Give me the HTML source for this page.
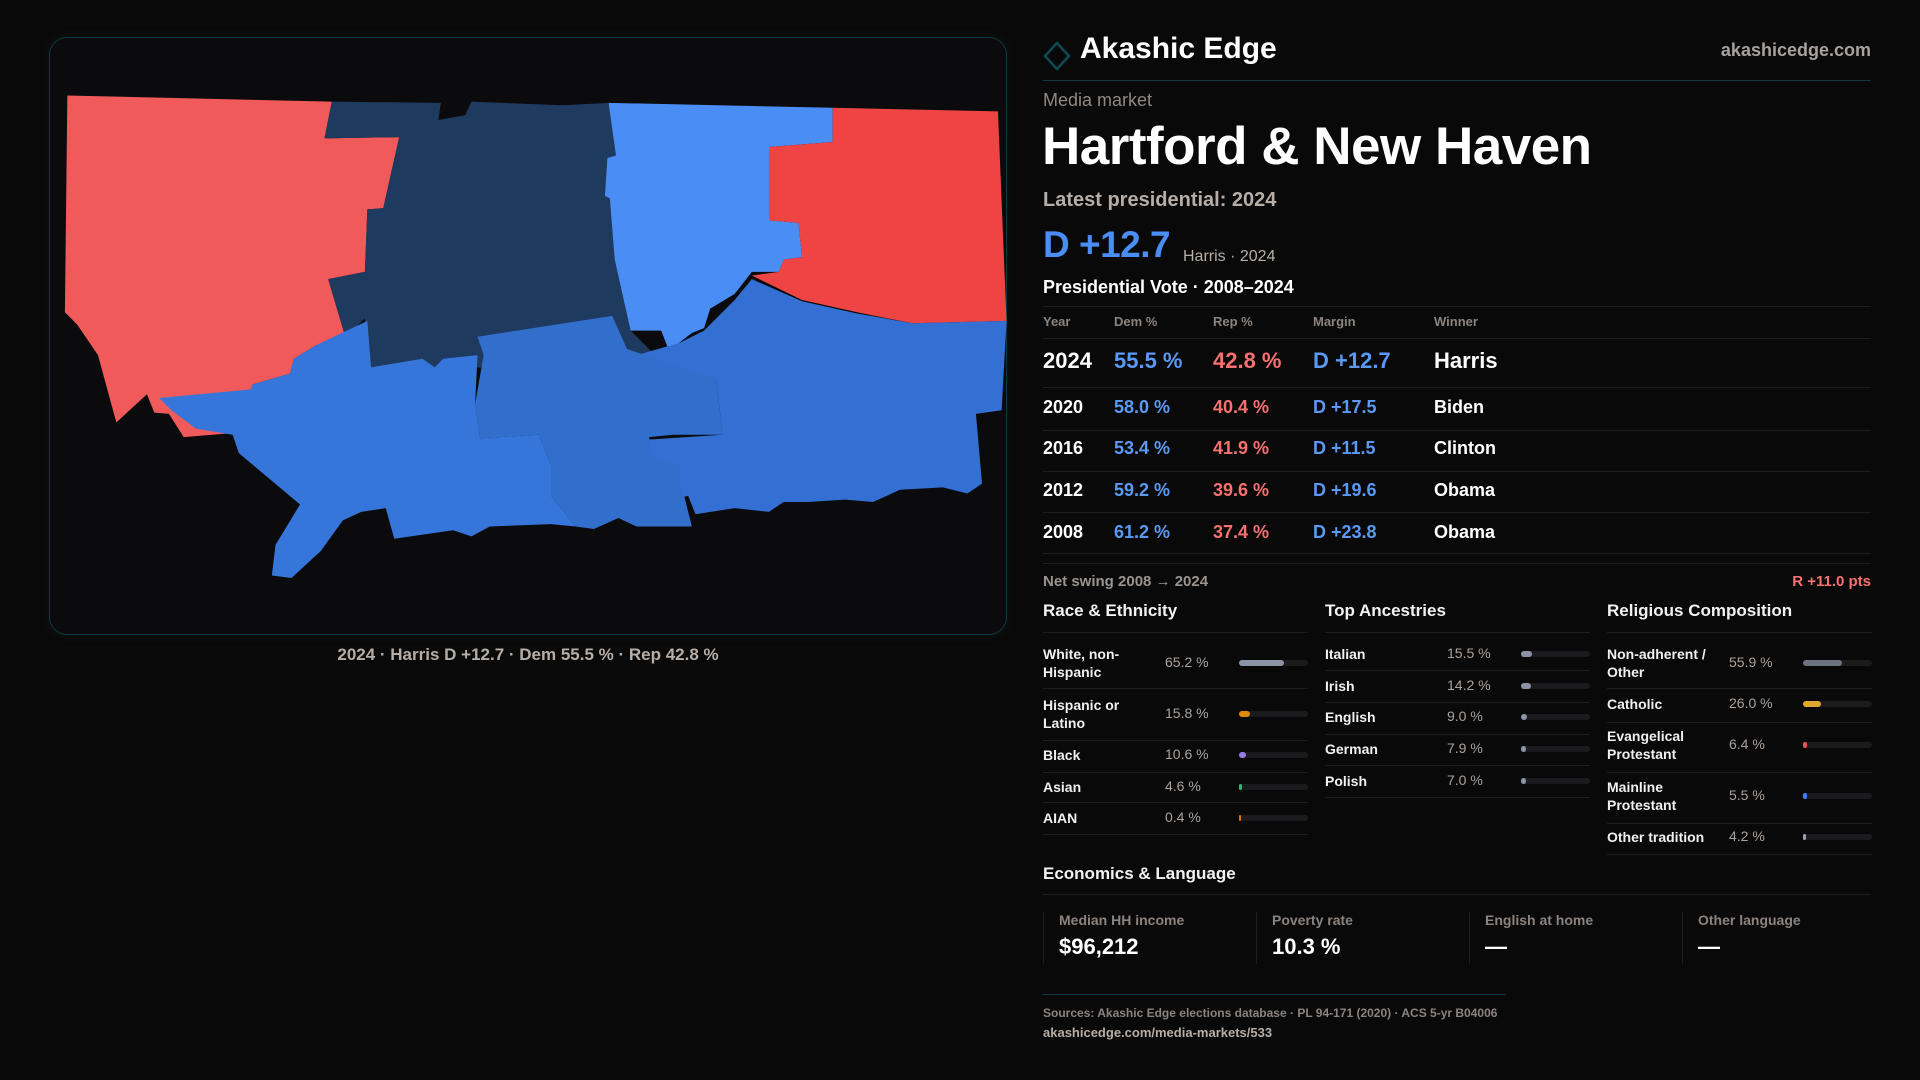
<!DOCTYPE html>
<html><head><meta charset="utf-8">
<style>
body{margin:0;width:1920px;height:1080px;background:#0a0909;font-family:"Liberation Sans",sans-serif;overflow:hidden;position:relative;color:#fff}
.a{position:absolute;white-space:nowrap}
.card{position:absolute;left:49px;top:37px;width:956px;height:596px;border:1px solid #0f3a40;border-radius:18px;background:#0b0a0c;box-shadow:0 0 12px rgba(20,90,100,.15)}
.hl{position:absolute;height:1px;background:#1e1e22}
.g{color:#8f8984}
.sec{font-size:17px;font-weight:bold;color:#f2f2f2}
.lab{font-size:14px;font-weight:bold;color:#f0f0f0;line-height:18px}
.val{font-size:14px;color:#aaa39d}
.trk{position:absolute;height:6px;border-radius:3px;background:#1b1b1e}
.fil{position:absolute;left:0;top:0;height:6px;border-radius:3px}
</style></head><body>
<div class="card"></div>
<svg class="a" style="left:0;top:0" width="1920" height="1080" viewBox="0 0 1568 882">
<polygon fill="#f05a5a" points="55,78 271,83 265,113 326,112 313,170 300,171 298,222 268,228 282,275 258,282 240,293 237,305 206,314 211,352 150,357 138,338 126,337 120,322 95,345 80,290 63,265 53,255"/>
<polygon fill="#1f3a5f" points="271,83 360,84 358,98 380,94 385,83 460,86 497,84 503,127 496,129 494,160 498,162 502,212 515,270 545,300 520,310 390,300 300,300 298,260 282,275 268,228 298,222 300,171 313,170 326,112 265,113"/>
<polygon fill="#4a8ef5" points="497,84 680,88 680,116 628,120 628,180 652,182 655,210 640,212 636,222 614,222 600,240 580,252 575,268 565,272 552,282 545,283 540,270 515,270 502,212 498,162 494,160 496,129 503,127"/>
<polygon fill="#ef4444" points="680,88 815,91 822,262 745,264 700,255 655,245 614,225 636,222 640,212 655,210 652,182 628,180 628,120 680,116"/>
<polygon fill="#3470d3" points="520,290 555,280 575,270 600,245 614,228 655,246 700,256 745,264 822,262 818,335 797,338 802,395 790,403 770,398 735,400 713,410 690,408 660,410 640,410 628,418 600,415 568,420 562,405 540,410 530,400 520,380 515,360 590,355 585,310"/>
<polygon fill="#326fcc" points="390,275 500,258 512,285 585,310 590,355 550,355 530,357 535,375 556,380 556,395 560,410 565,430 520,430 505,423 485,432 470,430 450,405 450,380 440,355 392,358 388,330 395,290"/>
<polygon fill="#3676da" points="130,325 205,318 206,314 237,305 240,293 258,282 300,262 303,300 345,293 355,300 362,293 390,290 388,330 392,358 440,355 450,380 450,405 470,430 450,428 400,430 385,438 370,433 322,440 315,415 295,418 280,425 262,450 238,472 222,470 225,445 245,412 195,370 190,355 160,350 140,335"/>
</svg>
<div class="a" style="left:0;width:1056px;top:645px;text-align:center;font-size:17px;font-weight:bold;color:#b5aea8">2024 · Harris D +12.7 · Dem 55.5 % · Rep 42.8 %</div>

<svg class="a" style="left:1043px;top:41px" width="28" height="30"><polygon points="14,2 26,15 14,28 2,15" fill="none" stroke="#0f4a52" stroke-width="2.5"/></svg>
<div class="a" style="left:1080px;top:32px;font-size:30px;font-weight:bold">Akashic Edge</div>
<div class="a g" style="right:49px;top:40px;font-size:18px;font-weight:bold;color:#a8a29e">akashicedge.com</div>
<div class="hl" style="left:1043px;width:828px;top:80px;background:#0e3a40"></div>
<div class="a g" style="left:1043px;top:90px;font-size:18px">Media market</div>
<div class="a" style="left:1042px;top:116px;font-size:53px;font-weight:bold;letter-spacing:-.5px">Hartford &amp; New Haven</div>
<div class="a" style="left:1043px;top:189px;font-size:20px;font-weight:bold;color:#b5aea8">Latest presidential: 2024</div>
<div class="a" style="left:1043px;top:224px;font-size:37px;font-weight:bold;color:#4a8ef5;letter-spacing:-.5px">D +12.7</div>
<div class="a" style="left:1183px;top:248px;font-size:16px;color:#b5aea8">Harris · 2024</div>
<div class="a" style="left:1043px;top:277px;font-size:18px;font-weight:bold">Presidential Vote · 2008–2024</div>
<div id="tbl"></div>
<div class="a" style="left:1043px;top:573px;font-size:15px;font-weight:bold;color:#9a948f">Net swing 2008 → 2024</div>
<div class="a" style="right:49px;top:573px;font-size:15px;font-weight:bold;color:#f87171">R +11.0 pts</div>
<div id="demo"></div>
<div class="a sec" style="left:1043px;top:864px">Economics &amp; Language</div>
<div class="hl" style="left:1043px;width:828px;top:894px"></div>
<div id="econ"></div>
<div class="hl" style="left:1043px;width:463px;top:994px;background:#0e3a40"></div>
<div class="a" style="left:1043px;top:1006px;font-size:12px;font-weight:bold;color:#8a8480">Sources: Akashic Edge elections database · PL 94-171 (2020) · ACS 5-yr B04006</div>
<div class="a" style="left:1043px;top:1025px;font-size:13px;font-weight:bold;color:#b5aea8">akashicedge.com/media-markets/533</div>
<script>
const years=["2024","2020","2016","2012","2008"];
const demPct=[55.5,58.0,53.4,59.2,61.2];
const repPct=[42.8,40.4,41.9,39.6,37.4];
const margins=[12.7,17.5,11.5,19.6,23.8];
const winners=["Harris","Biden","Clinton","Obama","Obama"];
const raceLabels=["White, non-<br>Hispanic","Hispanic or<br>Latino","Black","Asian","AIAN"];
const raceVals=[65.2,15.8,10.6,4.6,0.4];
const raceColors=["#8a94a6","#e08a0b","#9b7be8","#2bb673","#d97706"];
const ancLabels=["Italian","Irish","English","German","Polish"];
const ancVals=[15.5,14.2,9.0,7.9,7.0];
const relLabels=["Non-adherent /<br>Other","Catholic","Evangelical<br>Protestant","Mainline<br>Protestant","Other tradition"];
const relVals=[55.9,26.0,6.4,5.5,4.2];
const relColors=["#6b7280","#e0a82e","#e05555","#3b82f6","#9ca3af"];
const econLabels=["Median HH income","Poverty rate","English at home","Other language"];
const econVals=["$96,212","10.3 %","—","—"];

function mk(parent,cls,style,html){const e=document.createElement('div');e.className=cls;e.style.cssText=style;if(html!==undefined)e.innerHTML=html;parent.appendChild(e);return e;}
const tbl=document.getElementById('tbl');
let l=mk(tbl,'hl','left:1043px;width:828px;top:306px');


const cols=[1043,1114,1213,1313,1434];
["Year","Dem %","Rep %","Margin","Winner"].forEach((h,i)=>{const e=mk(tbl,'a g','left:'+cols[i]+'px;top:314px;font-size:13px;font-weight:bold;color:#8a8480',h);

});
l=mk(tbl,'hl','left:1043px;width:828px;top:338px');


const rowY=[361,408,449,491,533], ruleY=[387,430,471,512,553];
years.forEach((y,i)=>{
 const fs=i==0?22:18, t=rowY[i]-fs*0.6;
 const m=margins[i], ms=(m>=0?'D +':'R +')+Math.abs(m).toFixed(1);
 const vals=[[y,'#fff'],[demPct[i].toFixed(1)+' %','#5a9af5'],[repPct[i].toFixed(1)+' %','#f87171'],[ms,m>=0?'#5a9af5':'#f87171'],[winners[i],'#fff']];
 vals.forEach((v,j)=>{const e=mk(tbl,'a','left:'+cols[j]+'px;top:'+t+'px;font-size:'+fs+'px;font-weight:bold;color:'+v[1],v[0]);
 
 });
 const r=mk(tbl,'hl','left:1043px;width:828px;top:'+ruleY[i]+'px');
 
 
});
l=mk(tbl,'hl','left:1043px;width:828px;top:563px');



const demo=document.getElementById('demo');
function panel(x,title,labels,vals,colors,cy,ly,name){
 const h=mk(demo,'a sec','left:'+x+'px;top:601px',title);
 
 
 const r0=mk(demo,'hl','left:'+x+'px;width:265px;top:632px');
 
 
 labels.forEach((lb,i)=>{
  const lines=lb.indexOf('<br>')>=0?2:1;
  const e=mk(demo,'a lab','left:'+x+'px;top:'+(cy[i]-lines*9)+'px',lb);
  
  
  const v=mk(demo,'a val','left:'+(x+122)+'px;top:'+(cy[i]-9)+'px',vals[i].toFixed(1)+' %');
  
  
  const t=mk(demo,'trk','left:'+(x+196)+'px;width:69px;top:'+(cy[i]-3)+'px');
  
  
  const f=mk(t,'fil','width:'+Math.max(2,69*vals[i]/100)+'px;background:'+colors[i]);
  
  
  const r=mk(demo,'hl','left:'+x+'px;width:265px;top:'+ly[i]+'px');
  
  
 });
}
panel(1043,'Race &amp; Ethnicity',raceLabels,raceVals,raceColors,[663,714,755,787,818],[688,740,772,802,834],'race');
panel(1325,'Top Ancestries',ancLabels,ancVals,ancLabels.map(()=>'#8a94a6'),[654,686,717,749,781],[670,702,734,765,797],'ancestry');
panel(1607,'Religious Composition',relLabels,relVals,relColors,[663,704,745,796,837],[688,722,772,823,854],'religion');

const econ=document.getElementById('econ');
const ex=[1043,1256,1469,1682];
econLabels.forEach((lb,i)=>{
 const b=mk(econ,'a','left:'+ex[i]+'px;top:912px;width:1px;height:52px;background:#1e1e22');
 
 
 const e=mk(econ,'a','left:'+(ex[i]+16)+'px;top:912px;font-size:14px;font-weight:bold;color:#8a8480',lb);
 
 
 const v=mk(econ,'a','left:'+(ex[i]+16)+'px;top:934px;font-size:22px;font-weight:bold;color:#fff',econVals[i]);
 
 
});
</script>
</body></html>
